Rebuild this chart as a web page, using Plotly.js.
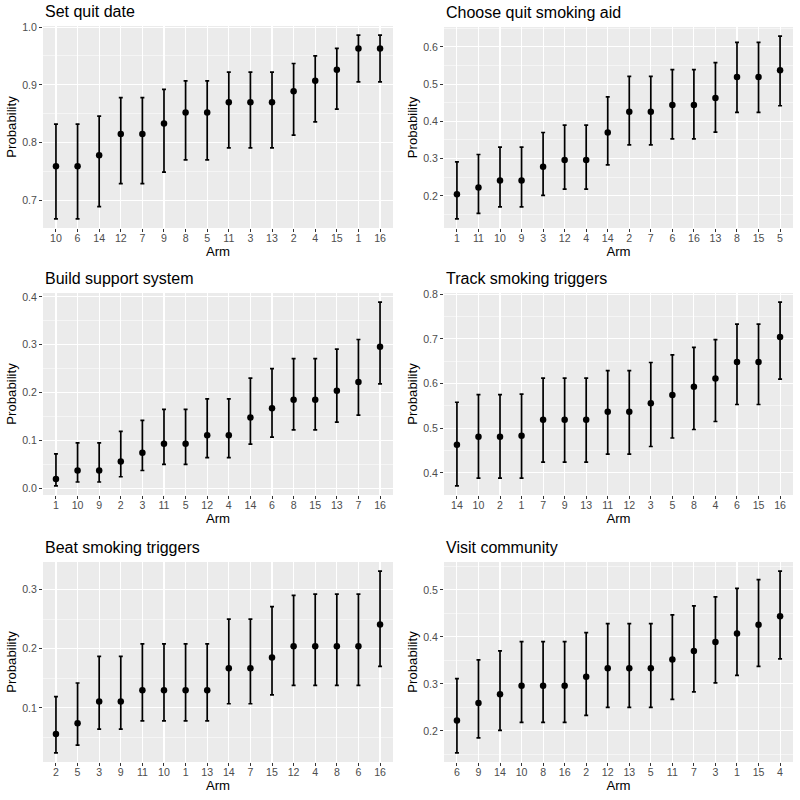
<!DOCTYPE html>
<html>
<head>
<meta charset="utf-8">
<script src="https://cdn.plot.ly/plotly-3.0.1.min.js"></script>
<style>html,body{margin:0;padding:0;background:#fff;}#chart{width:800px;height:800px;}</style>
</head>
<body>
<div id="chart"></div>
<script>
// ---- Data ----
const titles = ["Set quit date", "Choose quit smoking aid", "Build support system",
                "Track smoking triggers", "Beat smoking triggers", "Visit community"];

const arms1 = ["10","6","14","12","7","9","8","5","11","3","13","2","4","15","1","16"];
const est1  = [0.759,0.759,0.778,0.815,0.815,0.833,0.852,0.852,0.870,0.870,0.870,0.889,0.907,0.926,0.963,0.963];
const lo1   = [0.668,0.668,0.689,0.729,0.729,0.749,0.770,0.770,0.791,0.791,0.791,0.813,0.836,0.858,0.905,0.905];
const hi1   = [0.832,0.832,0.846,0.878,0.878,0.892,0.907,0.907,0.922,0.922,0.922,0.937,0.950,0.963,0.986,0.986];

const arms2 = ["1","11","10","9","3","12","4","14","2","7","6","16","13","8","15","5"];
const est2  = [0.204,0.222,0.241,0.241,0.278,0.296,0.296,0.370,0.426,0.426,0.444,0.444,0.463,0.519,0.519,0.537];
const lo2   = [0.138,0.153,0.170,0.170,0.201,0.218,0.218,0.283,0.337,0.337,0.353,0.353,0.371,0.424,0.424,0.442];
const hi2   = [0.291,0.311,0.331,0.331,0.370,0.390,0.390,0.466,0.521,0.521,0.539,0.539,0.558,0.612,0.612,0.629];

const arms3 = ["1","10","9","2","3","11","5","12","4","14","6","8","15","13","7","16"];
const est3  = [0.019,0.037,0.037,0.056,0.074,0.093,0.093,0.111,0.111,0.148,0.167,0.185,0.185,0.204,0.222,0.296];
const lo3   = [0.005,0.013,0.013,0.024,0.037,0.050,0.050,0.064,0.064,0.092,0.107,0.122,0.122,0.138,0.153,0.218];
const hi3   = [0.072,0.095,0.095,0.119,0.142,0.165,0.165,0.187,0.187,0.230,0.250,0.271,0.271,0.291,0.311,0.389];

const arms4 = ["14","10","2","1","7","9","13","11","12","3","5","8","4","6","15","16"];
const est4  = [0.463,0.481,0.481,0.483,0.519,0.519,0.519,0.537,0.537,0.556,0.574,0.593,0.611,0.648,0.648,0.704];
const lo4   = [0.371,0.388,0.388,0.388,0.424,0.424,0.424,0.442,0.442,0.459,0.478,0.497,0.515,0.553,0.553,0.610];
const hi4   = [0.558,0.575,0.575,0.576,0.612,0.612,0.612,0.629,0.629,0.647,0.664,0.681,0.698,0.733,0.733,0.782];

const arms5 = ["2","5","3","9","11","10","1","13","14","7","15","12","4","8","6","16"];
const est5  = [0.056,0.074,0.111,0.111,0.130,0.130,0.130,0.130,0.167,0.167,0.185,0.204,0.204,0.204,0.204,0.241];
const lo5   = [0.024,0.037,0.064,0.064,0.078,0.078,0.078,0.078,0.107,0.107,0.122,0.138,0.138,0.138,0.138,0.170];
const hi5   = [0.119,0.142,0.187,0.187,0.208,0.208,0.208,0.208,0.250,0.250,0.271,0.290,0.292,0.292,0.292,0.331];

const arms6 = ["6","9","14","10","8","16","2","12","13","5","11","7","3","1","15","4"];
const est6  = [0.222,0.259,0.278,0.296,0.296,0.296,0.315,0.333,0.333,0.333,0.352,0.370,0.389,0.407,0.426,0.444];
const lo6   = [0.153,0.185,0.201,0.218,0.218,0.218,0.233,0.250,0.250,0.250,0.267,0.283,0.302,0.318,0.337,0.353];
const hi6   = [0.311,0.351,0.370,0.390,0.390,0.390,0.409,0.428,0.428,0.428,0.447,0.466,0.485,0.503,0.522,0.540];

const yTitle = "Probability";
const xTitle = "Arm";

// ---- Layout geometry (pixels in an 800x800 page) ----
const W = 800, H = 800;
const boxes = [
  {x0: 43,  x1: 393, y0: 26,  y1: 228},
  {x0: 444, x1: 793, y0: 27,  y1: 228},
  {x0: 43,  x1: 393, y0: 293, y1: 495},
  {x0: 444, x1: 793, y0: 293, y1: 495},
  {x0: 43,  x1: 393, y0: 562, y1: 762},
  {x0: 444, x1: 793, y0: 562, y1: 762}
];

const panels = [
  {arms: arms1, est: est1, lo: lo1, hi: hi1},
  {arms: arms2, est: est2, lo: lo2, hi: hi2},
  {arms: arms3, est: est3, lo: lo3, hi: hi3},
  {arms: arms4, est: est4, lo: lo4, hi: hi4},
  {arms: arms5, est: est5, lo: lo5, hi: hi5},
  {arms: arms6, est: est6, lo: lo6, hi: hi6}
];

const FONT = "Liberation Sans, Arial, sans-serif";
const data = [];
const layout = {
  width: W, height: H,
  margin: {l: 0, r: 0, t: 0, b: 0},
  paper_bgcolor: "#FFFFFF",
  plot_bgcolor: "#EBEBEB",
  showlegend: false,
  font: {family: FONT},
  annotations: []
};

panels.forEach((p, i) => {
  const n = i + 1;
  const xa = n === 1 ? "x" : "x" + n;
  const ya = n === 1 ? "y" : "y" + n;
  data.push({
    type: "scatter", mode: "markers",
    x: p.arms, y: p.est,
    xaxis: xa, yaxis: ya,
    marker: {color: "#000000", size: 6.5},
    error_y: {
      type: "data", symmetric: false,
      array: p.est.map((v, k) => p.hi[k] - v),
      arrayminus: p.est.map((v, k) => v - p.lo[k]),
      color: "#000000", thickness: 1.7, width: 2
    },
    hoverinfo: "x+y"
  });
  const all = p.lo.concat(p.hi);
  const mn = Math.min(...all), mx = Math.max(...all);
  const pad = 0.05 * (mx - mn);
  const b = boxes[i];
  layout["xaxis" + (n === 1 ? "" : n)] = {
    anchor: ya, domain: [b.x0 / W, b.x1 / W],
    type: "category", categoryorder: "array", categoryarray: p.arms,
    range: [-0.6, p.arms.length - 0.4],
    showgrid: true, gridcolor: "#FFFFFF", gridwidth: 1.1,
    zeroline: false, showline: false,
    ticks: "outside", ticklen: 3, tickwidth: 1, tickcolor: "#333333",
    ticklabelstandoff: -3,
    tickfont: {family: FONT, size: 10.6, color: "#4D4D4D"},
    title: {text: xTitle, font: {family: FONT, size: 13.2, color: "#000000"}, standoff: 0},
    fixedrange: true
  };
  layout["yaxis" + (n === 1 ? "" : n)] = {
    anchor: xa, domain: [1 - b.y1 / H, 1 - b.y0 / H],
    range: [mn - pad, mx + pad],
    dtick: 0.1, tick0: 0, tickformat: ".1f",
    showgrid: true, gridcolor: "#FFFFFF", gridwidth: 1.1,
    minor: {dtick: 0.05, tick0: 0, showgrid: true, gridcolor: "#FFFFFF", gridwidth: 0.5, ticks: ""},
    zeroline: false, showline: false,
    ticks: "outside", ticklen: 3, tickwidth: 1, tickcolor: "#333333",
    tickfont: {family: FONT, size: 10.6, color: "#4D4D4D"},
    title: {text: yTitle, font: {family: FONT, size: 13.2, color: "#000000"}, standoff: 2},
    fixedrange: true
  };
  layout.annotations.push({
    text: titles[i], xref: "paper", yref: "paper",
    x: b.x0 / W, y: 1 - (b.y0 - 4) / H,
    xanchor: "left", yanchor: "bottom", showarrow: false,
    font: {family: FONT, size: 16, color: "#000000"}
  });
});

Plotly.newPlot("chart", data, layout, {staticPlot: true});
</script>
</body>
</html>
